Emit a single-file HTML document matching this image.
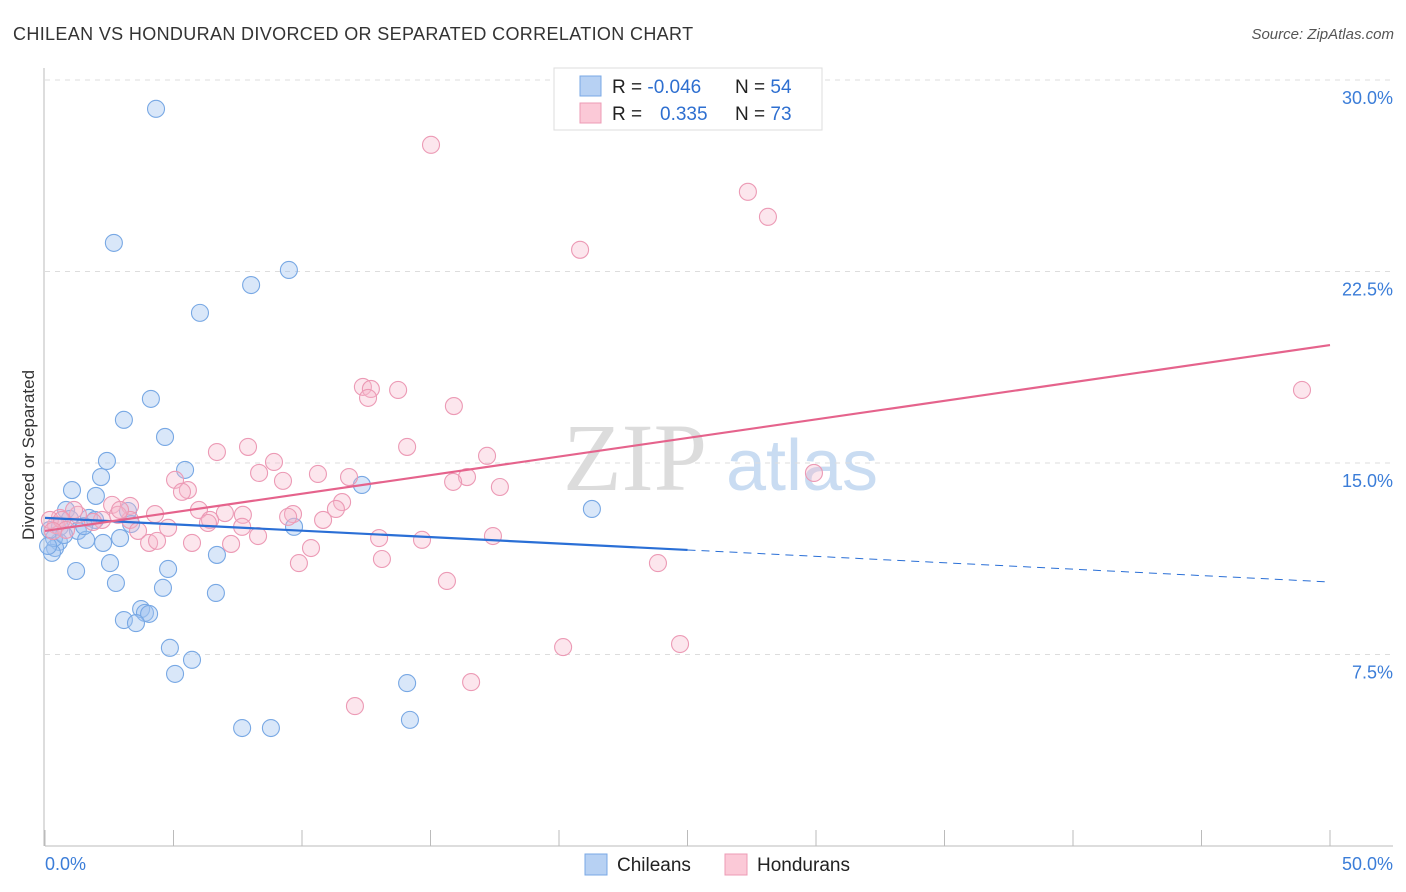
<!DOCTYPE html>
<html><head><meta charset="utf-8"><style>
body{margin:0;background:#fff;font-family:"Liberation Sans",sans-serif}
svg{display:block}
</style></head><body>
<svg id="chart" width="1406" height="892" xmlns="http://www.w3.org/2000/svg">
<text x="13" y="40" font-size="18" fill="#333" letter-spacing="0.35" font-family="Liberation Sans">CHILEAN VS HONDURAN DIVORCED OR SEPARATED CORRELATION CHART</text>
<text x="1394" y="39" font-size="15" fill="#555" font-style="italic" text-anchor="end">Source: ZipAtlas.com</text>
<g>
<text x="635" y="490" font-size="96" fill="#dcdcdc" font-family="Liberation Serif" text-anchor="middle">ZIP</text>
<text x="802" y="490" font-size="72" fill="#c9dcf2" text-anchor="middle">atlas</text>
</g>
<g id="grid"></g>
<g id="axes"></g>
<g id="pts"></g>
<g id="lines"></g>
<text transform="translate(34,455) rotate(-90)" font-size="17" fill="#333" text-anchor="middle">Divorced or Separated</text>
<g>
<rect x="554" y="68" width="268" height="62" fill="#fff" stroke="#ddd"/>
<rect x="580" y="76" width="21" height="20" fill="#b7d1f3" stroke="#7aa8e6"/>
<rect x="580" y="103" width="21" height="20" fill="#fbc9d7" stroke="#ec9bb5"/>
<text x="612" y="93" font-size="19" fill="#222">R = <tspan fill="#2e6fd0">-0.046</tspan><tspan x="735">N = </tspan><tspan fill="#2e6fd0">54</tspan></text>
<text x="612" y="120" font-size="19" fill="#222">R = <tspan x="660" fill="#2e6fd0">0.335</tspan><tspan x="735">N = </tspan><tspan fill="#2e6fd0">73</tspan></text>
</g>
<g>
<rect x="585" y="854" width="22" height="21" fill="#b7d1f3" stroke="#7aa8e6"/>
<text x="617" y="871" font-size="19" fill="#222">Chileans</text>
<rect x="725" y="854" width="22" height="21" fill="#fbc9d7" stroke="#ec9bb5"/>
<text x="757" y="871" font-size="19" fill="#222">Hondurans</text>
</g>
</svg>
<script>
const yTicks=[7.5,15,22.5,30];
const yTickLabels=["7.5%","15.0%","22.5%","30.0%"];
const xTickLabels=["0.0%","50.0%"];
const chileanX=[4.32,2.68,9.49,8.02,6.03,4.12,3.07,4.67,2.41,5.45,2.18,1.05,1.98,12.33,21.28,0.82,1.71,3.23,0.97,1.28,3.35,2.92,2.26,1.60,0.54,0.39,0.27,9.69,6.69,2.53,4.79,1.21,2.76,4.59,6.65,3.74,3.89,4.05,3.07,3.54,4.86,5.72,5.06,14.09,7.67,8.79,14.20,0.35,0.19,0.58,0.12,0.74,1.95,1.52];
const chileanY=[28.87,23.62,22.56,21.97,20.88,17.51,16.69,16.02,15.08,14.73,14.45,13.94,13.71,14.14,13.20,13.16,12.85,13.12,12.81,12.34,12.61,12.06,11.87,11.99,11.91,11.67,11.48,12.50,11.40,11.08,10.85,10.77,10.30,10.11,9.91,9.28,9.13,9.09,8.85,8.73,7.76,7.29,6.74,6.38,4.62,4.62,4.94,12.06,12.38,12.50,11.75,12.18,12.77,12.53];
const honduranX=[15.02,27.35,28.13,20.82,48.91,12.37,12.68,13.74,12.57,15.91,14.09,7.90,6.69,17.20,8.91,8.33,10.62,11.83,9.26,16.42,29.92,5.06,15.88,17.70,5.56,5.33,11.56,2.61,3.31,5.99,7.70,9.65,7.00,9.46,11.32,4.28,10.82,2.22,1.87,1.28,1.13,0.58,3.31,3.62,6.42,7.67,4.79,0.43,0.19,8.29,13.00,14.67,17.43,4.05,4.36,7.24,5.72,10.35,13.11,9.88,23.85,15.64,20.16,24.71,16.58,12.06,0.66,0.82,2.84,2.92,6.34,0.31];
const honduranY=[27.46,25.62,24.64,23.35,17.86,17.98,17.90,17.86,17.55,17.23,15.63,15.63,15.43,15.28,15.04,14.61,14.57,14.45,14.30,14.45,14.61,14.34,14.26,14.06,13.94,13.87,13.47,13.36,13.32,13.16,12.97,13.00,13.04,12.89,13.20,13.00,12.77,12.77,12.69,12.97,13.16,12.85,12.77,12.34,12.77,12.50,12.46,12.57,12.77,12.14,12.06,11.99,12.14,11.87,11.95,11.83,11.87,11.67,11.24,11.08,11.08,10.38,7.79,7.91,6.42,5.48,12.77,12.38,12.97,13.16,12.65,12.34];
const chileanTrend=[12.85,10.34];
const honduranTrend=[12.34,19.62];
const chileanSolidEnd=25;
const NS="http://www.w3.org/2000/svg";
const X0=45,X1=1330,Y0=846,Y1=80;
const sx=v=>X0+(v/50)*(X1-X0);
const sy=v=>Y0-(v/30)*(Y0-Y1);
function mk(tag,attrs,parent){const e=document.createElementNS(NS,tag);for(const k in attrs)e.setAttribute(k,attrs[k]);parent.appendChild(e);return e;}
const grid=document.getElementById('grid'),axes=document.getElementById('axes'),pts=document.getElementById('pts'),lines=document.getElementById('lines');
yTicks.forEach((t,i)=>{
 const l=mk('line',{x1:X0,x2:1393,y1:sy(t),y2:sy(t),stroke:'#ddd','stroke-dasharray':'5,5'},grid);
 
 
 const tx=mk('text',{x:1393,y:sy(t)+24,'font-size':18,fill:'#3b7dd8','text-anchor':'end'},axes);
 tx.textContent=yTickLabels[i];
 
 
});
let al=mk('line',{x1:44,x2:44,y1:68,y2:Y0,stroke:'#bbb'},axes);


al=mk('line',{x1:X0,x2:1393,y1:Y0,y2:Y0,stroke:'#bbb'},axes);


for(let v=0;v<=50;v+=5){
 const tk=mk('line',{x1:sx(v),x2:sx(v),y1:Y0-16,y2:Y0,stroke:'#bbb'},axes);
 
 
}
[[0,'start',45],[50,'end',1393]].forEach((p,i)=>{
 const tx=mk('text',{x:p[2],y:870,'font-size':18,fill:'#3b7dd8','text-anchor':p[1]},axes);
 tx.textContent=xTickLabels[i];
 
 
});
chileanX.forEach((x,i)=>{
 const c=mk('circle',{cx:sx(x),cy:sy(chileanY[i]),r:8.5,fill:'rgba(160,196,240,0.4)',stroke:'#78a8e4','stroke-width':1.1},pts);
 
 
});
honduranX.forEach((x,i)=>{
 const c=mk('circle',{cx:sx(x),cy:sy(honduranY[i]),r:8.5,fill:'rgba(246,182,202,0.35)',stroke:'#ec9ab5','stroke-width':1.1},pts);
 
 
});
const cy=v=>chileanTrend[0]+(chileanTrend[1]-chileanTrend[0])*v/50;
let ln=mk('line',{x1:sx(0),y1:sy(cy(0)),x2:sx(chileanSolidEnd),y2:sy(cy(chileanSolidEnd)),stroke:'#2a6fd6','stroke-width':2.2},lines);


ln=mk('line',{x1:sx(chileanSolidEnd),y1:sy(cy(chileanSolidEnd)),x2:sx(50),y2:sy(cy(50)),stroke:'#2a6fd6','stroke-width':1,'stroke-dasharray':'8,6'},lines);


ln=mk('line',{x1:sx(0),y1:sy(honduranTrend[0]),x2:sx(50),y2:sy(honduranTrend[1]),stroke:'#e5638c','stroke-width':2.2},lines);


</script>
</body></html>
